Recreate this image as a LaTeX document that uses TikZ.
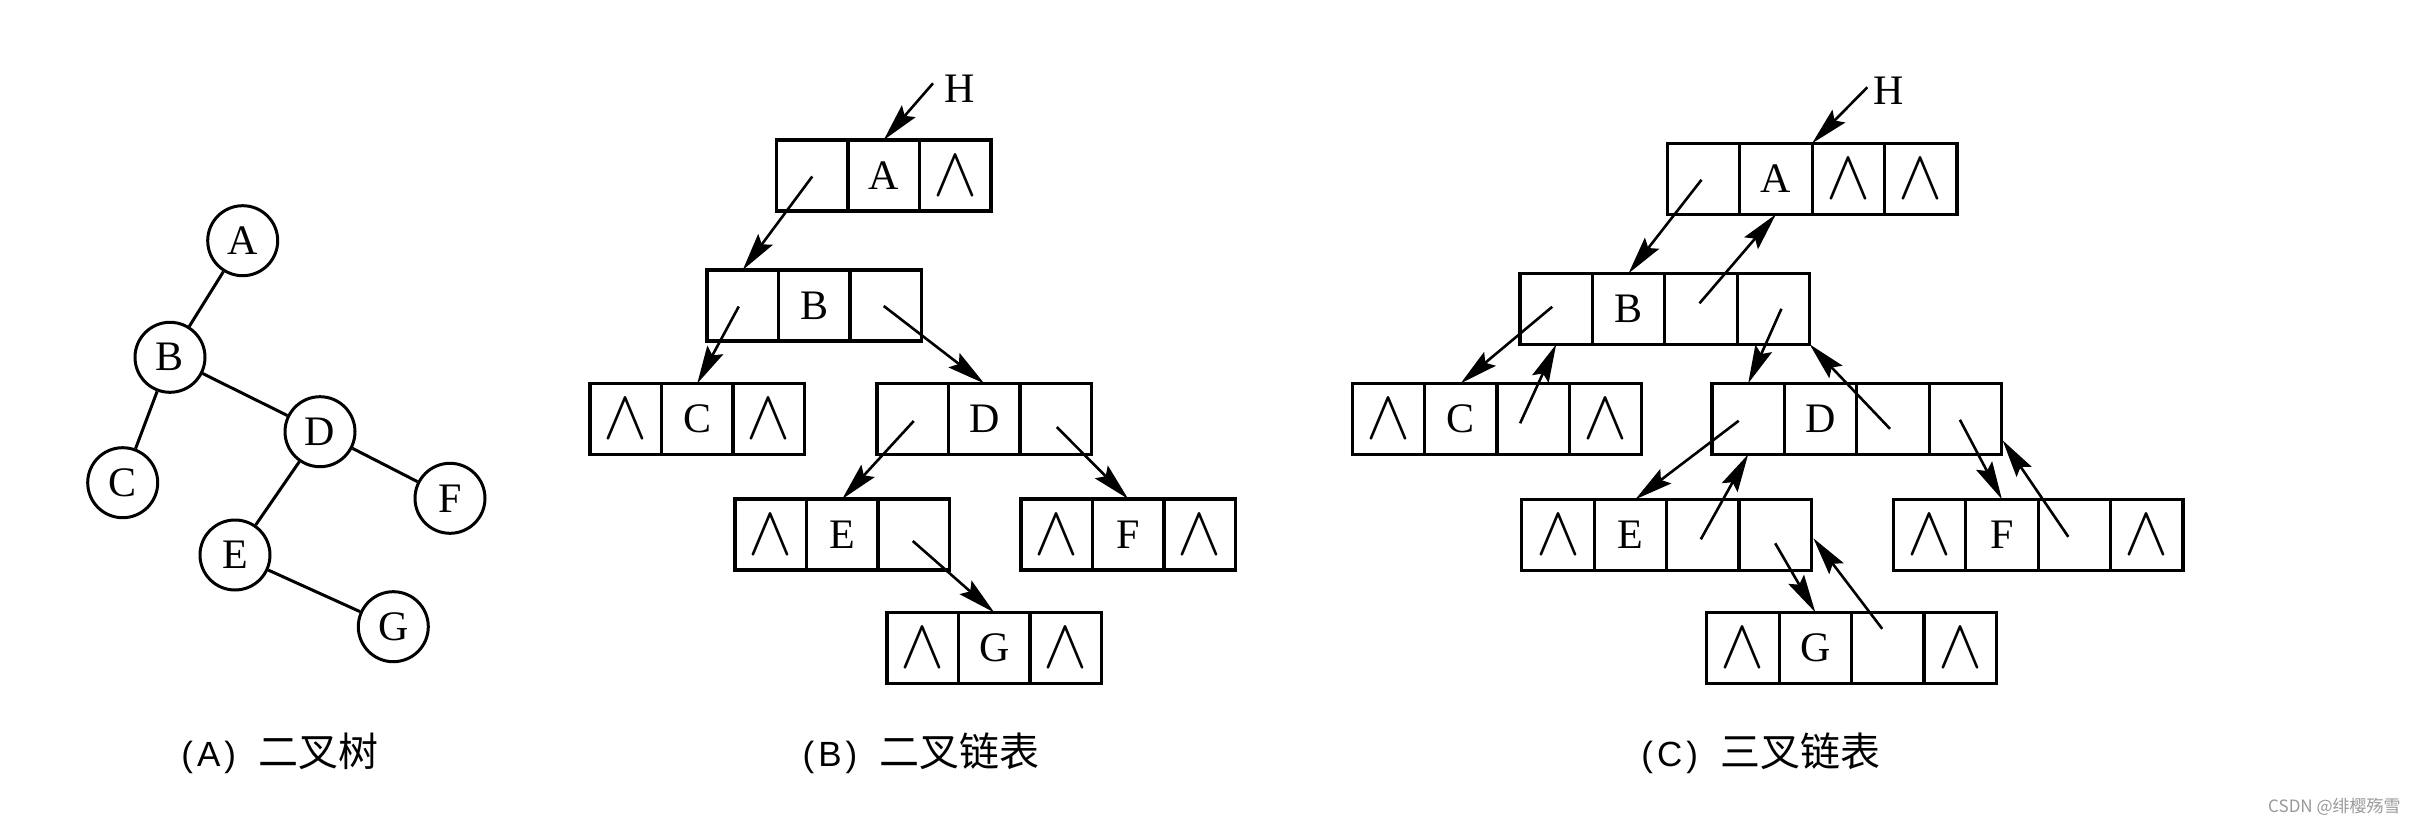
\documentclass[tikz,border=0pt]{standalone}
\usepackage{fontspec}
\usepackage{graphicx}
\setmainfont{Liberation Serif}
\newfontfamily\cjk{Noto Sans CJK SC}
\newfontfamily\lsans{Liberation Sans}
\usetikzlibrary{arrows.meta,calc}
\newcommand{\nil}{\resizebox{22pt}{19.5pt}{$\wedge$}}
\newcommand{\capletter}[1]{{\lsans\fontsize{17.5}{20}\selectfont(\kern2pt #1\kern2pt)}\kern11pt}
\newcommand{\tribox}[6]{%
  \node[bcell] (#1-1) at ({#2},{#3}) {#4};
  \node[bcell] (#1-2) at ({#2+71.5},{#3}) {#5};
  \node[bcell] (#1-3) at ({#2+143},{#3}) {#6};}
\newcommand{\quadbox}[7]{%
  \node[ccell] (#1-1) at ({#2},{#3}) {#4};
  \node[ccell] (#1-2) at ({#2+72.4},{#3}) {#5};
  \node[ccell] (#1-3) at ({#2+144.8},{#3}) {#6};
  \node[ccell] (#1-4) at ({#2+217.2},{#3}) {#7};}
\tikzset{
  letter/.style={font=\fontsize{21}{21}\selectfont},
  cellbase/.style={draw, anchor=north west, inner sep=0pt, outer sep=0pt,
    line width=1.6pt, minimum height=35.5pt, letter},
  bcell/.style={cellbase, minimum width=35.75pt},
  ccell/.style={cellbase, minimum width=36.2pt},
  tnode/.style={circle, draw, line width=1.5pt, minimum size=35pt, inner sep=0pt, letter},
  treeedge/.style={line width=1.5pt},
  arr/.style={line width=1.3pt, -{Stealth[length=19pt,width=9pt,inset=3pt]}},
  captext/.style={anchor=base west, inner sep=0pt, font=\cjk\fontsize{20}{24}\selectfont},
  hlabel/.style={inner sep=0pt, letter},
}
\begin{document}
\begin{tikzpicture}[x=0.5pt,y=-0.5pt]
\useasboundingbox (0,0) rectangle (2416,824);
\fill[white] (0,0) rectangle (2416,824);

% ---------- Panel A: binary tree ----------
\node[tnode] (tA) at (242.7,240.7) {A};
\node[tnode] (tB) at (170,357.3) {B};
\node[tnode] (tC) at (122.7,482.7) {C};
\node[tnode] (tD) at (320,431.7) {D};
\node[tnode] (tF) at (450,498.3) {F};
\node[tnode] (tE) at (235,555) {E};
\node[tnode] (tG) at (393.3,626.7) {G};
\draw[treeedge] (tA) -- (tB);
\draw[treeedge] (tB) -- (tC);
\draw[treeedge] (tB) -- (tD);
\draw[treeedge] (tD) -- (tE);
\draw[treeedge] (tD) -- (tF);
\draw[treeedge] (tE) -- (tG);

% ---------- Panel B: binary linked list ----------
\tribox{bA}{776.5}{140}{}{A}{\nil}
\tribox{bB}{707}{270}{}{B}{}
\tribox{bC}{590}{383.5}{\nil}{C}{\nil}
\tribox{bD}{877}{383.5}{}{D}{}
\tribox{bE}{735}{499}{\nil}{E}{}
\tribox{bF}{1021}{499}{\nil}{F}{\nil}
\tribox{bG}{887}{612.5}{\nil}{G}{\nil}
\node[hlabel] (hB) at (960,88.7) {H};
\coordinate (hBs) at (933,83.3);
\draw[arr] (hBs) -- (bA-2.north);
\draw[arr] ($(bA-1.center)+(0,1)$) -- (bB-1.north);
\draw[arr] ($(bB-1.center)+(-4,1)$) -- (bC-2.north);
\draw[arr] ($(bB-3.center)+(-2,0.5)$) -- (bD-2.north);
\draw[arr] ($(bD-1.center)+(1,2)$) -- (bE-2.north);
\draw[arr] ($(bD-3.center)+(1,8)$) -- (bF-2.north);
\draw[arr] ($(bE-3.center)+(-1,6.5)$) -- (bG-2.north);

% ---------- Panel C: ternary linked list ----------
\quadbox{cA}{1667.3}{143.3}{}{A}{\nil}{\nil}
\quadbox{cB}{1520}{273.3}{}{B}{}{}
\quadbox{cC}{1352.1}{383.3}{\nil}{C}{}{\nil}
\quadbox{cD}{1712}{383.3}{}{D}{}{}
\quadbox{cE}{1521.8}{499.3}{\nil}{E}{}{}
\quadbox{cF}{1893.3}{499.3}{\nil}{F}{}{\nil}
\quadbox{cG}{1706.7}{612.3}{\nil}{G}{}{\nil}
\node[hlabel] (hC) at (1889,91) {H};
\coordinate (hCs) at (1867.3,87.3);
\draw[arr] (hCs) -- (cA-2.north east);
\draw[arr] ($(cA-1.center)+(-2,1)$) -- (cB-2.north);
\draw[arr] ($(cB-3.center)+(-1.5,-5.5)$) -- (cA-2.south);
\draw[arr] ($(cB-1.center)+(-4,-2)$) -- (cC-2.north);
\draw[arr] ($(cC-3.center)+(-13,4.5)$) -- (cB-1.south);
\draw[arr] ($(cB-4.center)+(8,0)$) -- (cD-1.north);
\draw[arr] ($(cD-3.center)+(-3,10)$) -- (cB-4.south east);
\draw[arr] ($(cD-1.center)+(-9.5,2)$) -- ($(cE-2.north)+(5,0)$);
\draw[arr] ($(cE-3.center)+(-2,4.5)$) -- (cD-1.south);
\draw[arr] ($(cD-4.center)+(-5.5,1)$) -- (cF-2.north);
\draw[arr] ($(cF-3.center)+(-6,2)$) -- ($(cD-4.south east)+(1,-14)$);
\draw[arr] ($(cE-4.center)+(0,8.5)$) -- (cG-2.north);
\draw[arr] ($(cG-3.center)+(-5.5,-19)$) -- ($(cE-4.south east)+(2,-32)$);

% ---------- Captions ----------
\node[captext] (capA) at (181,766) {\capletter{A}二叉树};
\node[captext] (capB) at (802.3,766) {\capletter{B}二叉链表};
\node[captext] (capC) at (1641,766) {\capletter{C}三叉链表};
\node[anchor=base east, inner sep=0pt, text=black!40, font=\cjk\fontsize{8.5}{10}\selectfont] (wm) at (2401,812) {CSDN @绯樱殇雪};
\end{tikzpicture}
\end{document}
